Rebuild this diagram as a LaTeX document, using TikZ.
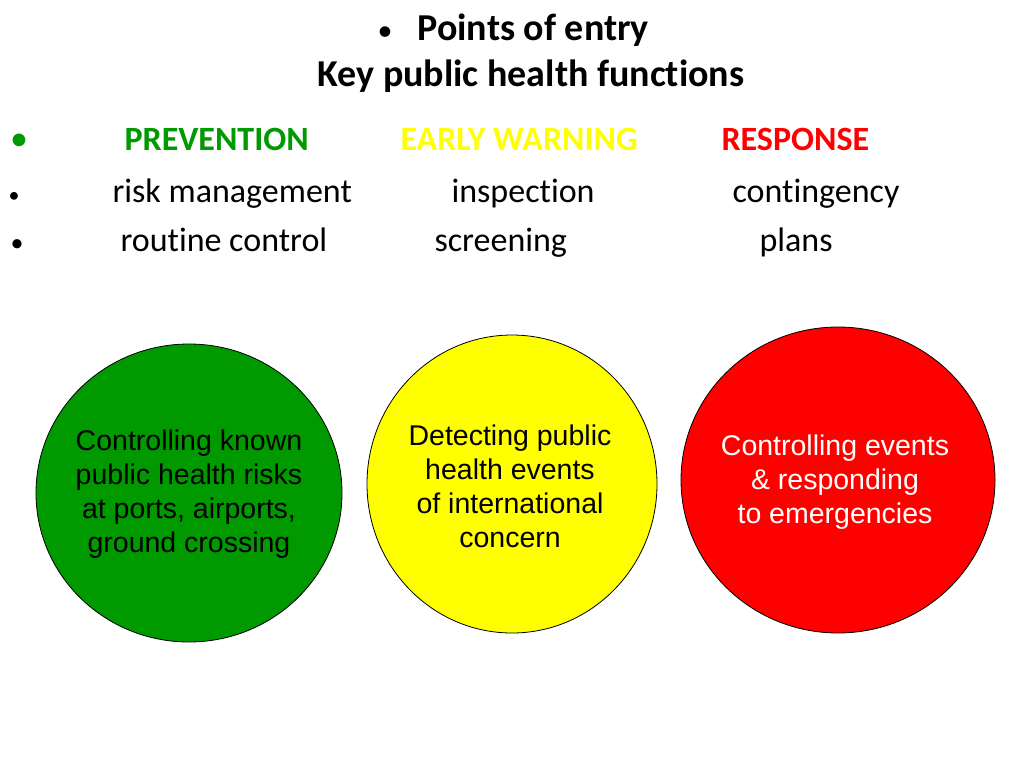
\documentclass[tikz,border=0pt]{standalone}
\usepackage{fontspec}
\setmainfont[Ligatures=NoCommon]{Carlito}
\newfontfamily\arialf{Liberation Sans}
\usetikzlibrary{shapes.geometric}
\definecolor{pgreen}{RGB}{0,153,0}
\definecolor{pyellow}{RGB}{255,255,0}
\definecolor{pred}{RGB}{255,0,0}
\begin{document}
\begin{tikzpicture}[x=1pt,y=-1pt,
  circ/.style={ellipse,draw=black,line width=0.8pt},
  ctext/.style={font=\arialf\fontsize{28.5}{34}\selectfont,align=center},
  row/.style={font=\fontsize{34}{38}\selectfont,anchor=base west},
  hdr/.style={font=\bfseries\fontsize{34}{38}\selectfont,anchor=base west},
  bul/.style={font=\fontsize{22}{26}\selectfont,anchor=base}]
\useasboundingbox (0,0) rectangle (1024,768);
\node[font=\fontsize{30}{34}\selectfont,anchor=base] (t0) at (385,41) {\textbullet};
\node[font=\bfseries\fontsize{38}{44}\selectfont,anchor=base west] (t1) at (414,41) {Points of entry};
\node[font=\bfseries\fontsize{38}{44}\selectfont,anchor=base] (t2) at (531,86) {Key public health functions};
\node[font=\fontsize{36}{40}\selectfont,text=pgreen,anchor=base] (b0) at (19,150) {\textbullet};
\node[hdr,text=pgreen] (h1) at (121,150) {PREVENTION};
\node[hdr,text=pyellow] (h2) at (397,150) {EARLY WARNING};
\node[hdr,text=pred] (h3) at (718,150) {RESPONSE};
\node[bul] (b1) at (14,202) {\textbullet};
\node[font=\fontsize{26}{30}\selectfont,anchor=base] (b2) at (17,251) {\textbullet};
\node[row] (r1) at (109,202) {risk management};
\node[row] (r2) at (448,202) {inspection};
\node[row] (r3) at (729,202) {contingency};
\node[row] (r4) at (117,251) {routine control};
\node[row] (r5) at (431,251) {screening};
\node[row] (r6) at (756,251) {plans};
\node[circ,fill=pgreen,minimum width=306,minimum height=298] (c1) at (189,493) {};
\node[circ,fill=pyellow,minimum width=290,minimum height=298] (c2) at (512,484) {};
\node[circ,fill=pred,minimum width=314,minimum height=306] (c3) at (838,480) {};
\node[ctext] (x1) at (189,494) {Controlling known\\public health risks\\at ports, airports,\\ground crossing};
\node[ctext] (x2) at (510,486) {Detecting public\\health events\\of international\\concern};
\node[ctext,text=white] (x3) at (835,482) {Controlling events\\\& responding\\to emergencies};
\end{tikzpicture}
\end{document}
